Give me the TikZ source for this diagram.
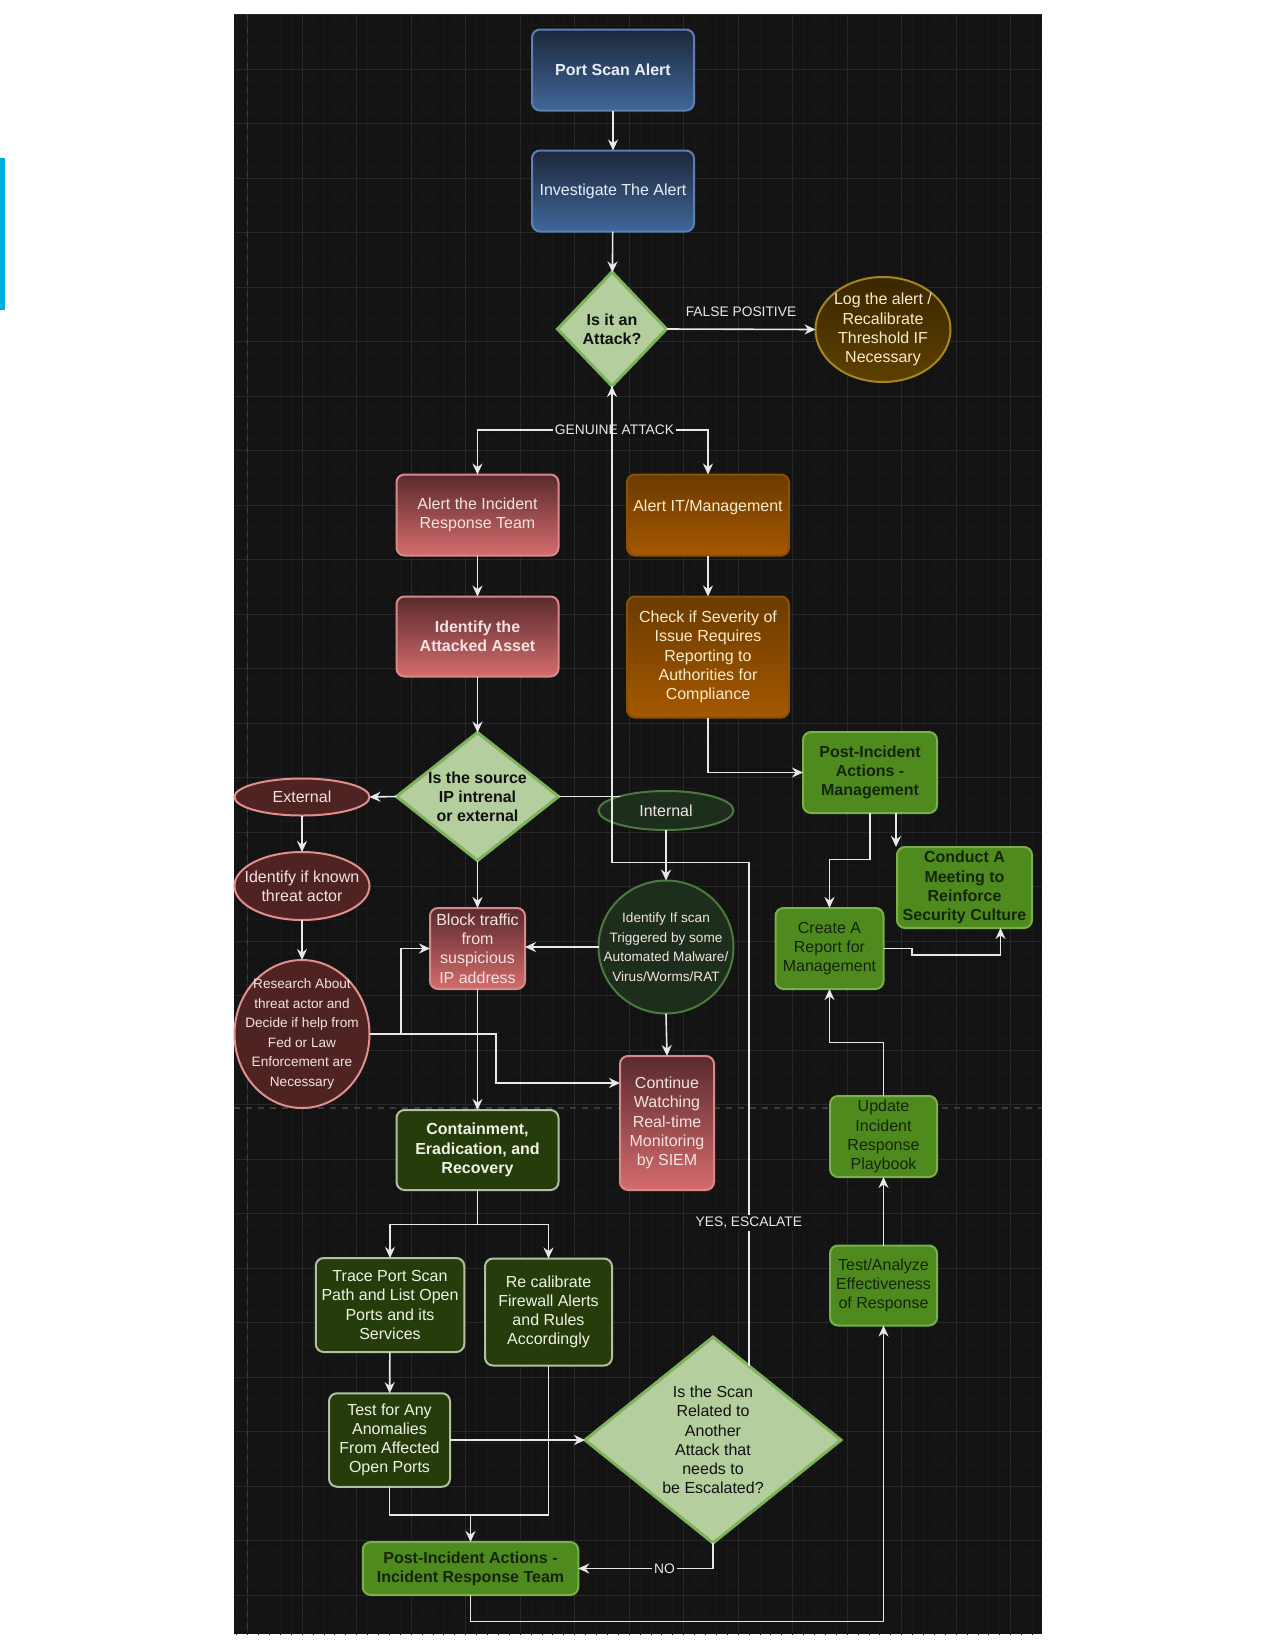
\documentclass[tikz,border=0pt]{standalone}
\usepackage{fontspec}
\setmainfont{Liberation Sans}
\usetikzlibrary{arrows.meta,shapes.geometric,calc}
\definecolor{bgC}{HTML}{131313}
\definecolor{minC}{HTML}{181818}
\definecolor{majC}{HTML}{282828}
\definecolor{pbC}{HTML}{3C3C3C}
\definecolor{lineC}{HTML}{E8E8E8}
\definecolor{blueT}{HTML}{1D283B}
\definecolor{blueB}{HTML}{40679A}
\definecolor{blueD}{HTML}{5E7FB3}
\definecolor{blueTx}{HTML}{E8EEF6}
\definecolor{redT}{HTML}{5A2A2E}
\definecolor{redB}{HTML}{D56C6C}
\definecolor{redD}{HTML}{D88A8A}
\definecolor{redTx}{HTML}{F4E2E2}
\definecolor{orT}{HTML}{6A3B00}
\definecolor{orB}{HTML}{A65800}
\definecolor{orD}{HTML}{8A5200}
\definecolor{orTx}{HTML}{FBEBCB}
\definecolor{logT}{HTML}{3A2700}
\definecolor{logB}{HTML}{5E4000}
\definecolor{logD}{HTML}{A8861E}
\definecolor{diaF}{HTML}{B4CE9E}
\definecolor{diaB}{HTML}{7DB35C}
\definecolor{diaTx}{HTML}{111111}
\definecolor{ellR}{HTML}{502323}
\definecolor{ellRD}{HTML}{E28E8E}
\definecolor{ellG}{HTML}{1D2F1C}
\definecolor{ellGD}{HTML}{4C7A3E}
\definecolor{grF}{HTML}{4E8A1D}
\definecolor{grD}{HTML}{78B146}
\definecolor{grTx}{HTML}{15250A}
\definecolor{dgF}{HTML}{263C0A}
\definecolor{dgD}{HTML}{B3BFA5}
\definecolor{dgTx}{HTML}{F0F2E6}
\definecolor{cyanC}{HTML}{00AEDF}
\tikzset{
  conn/.style={draw=lineC, line width=0.8pt},
  arr/.style={conn, -{Stealth[length=5.5pt,width=5pt,inset=1.8pt]}},
  sz/.style 2 args={minimum width=#1*0.5pt, minimum height=#2*0.5pt},
  nfont/.style={font=\fontsize{8}{9.6}\selectfont},
  bfont/.style={font=\fontsize{8}{9.6}\selectfont\bfseries},
  sfont/.style={font=\fontsize{6.8}{9.8}\selectfont},
  box/.style={rectangle, rounded corners=4pt, line width=1pt, align=center, inner sep=1pt, outer sep=0pt, nfont},
  bluebox/.style={box, draw=blueD, top color=blueT, bottom color=blueB, text=blueTx},
  redbox/.style={box, draw=redD, top color=redT, bottom color=redB, text=redTx},
  orbox/.style={box, draw=orD, top color=orT, bottom color=orB, text=orTx},
  grbox/.style={box, draw=grD, fill=grF, text=grTx},
  dgbox/.style={box, draw=dgD, fill=dgF, text=dgTx},
  dia/.style={diamond, line width=1.5pt, draw=diaB, fill=diaF, outer sep=0pt, inner sep=0pt},
  ell/.style={ellipse, line width=1pt, outer sep=0pt, inner sep=0pt},
  redell/.style={ell, draw=ellRD, fill=ellR},
  grell/.style={ell, draw=ellGD, fill=ellG},
  txt/.style={align=center, inner sep=0pt},
  lbl/.style={fill=bgC, text=lineC, inner sep=1pt, font=\fontsize{6.9}{8}\selectfont},
}
\begin{document}
\begin{tikzpicture}[x=0.5pt,y=-0.5pt]
\useasboundingbox (0,0) rectangle (1275,1650);
\fill[white] (0,0) rectangle (1275,1650);
\fill[cyanC] (0,158) rectangle (5,310);
\fill[bgC] (233.5,14.5) rectangle (1041.5,1634);
\begin{scope}
  \clip (233.5,14.5) rectangle (1041.5,1634);
  \foreach \i in {-2,...,74} \draw[minC, line width=0.3pt] ({247.5+\i*10.9},14.5) -- ++(0,1620);
  \foreach \j in {0,...,149} \draw[minC, line width=0.3pt] (233.5,{14.5+\j*10.9}) -- ++(808,0);
  \foreach \i in {0,...,15} \draw[majC, line width=0.5pt] ({247.5+\i*54.5},14.5) -- ++(0,1620);
  \foreach \j in {0,...,30} \draw[majC, line width=0.5pt] (233.5,{14.5+\j*54.5}) -- ++(808,0);
  \draw[pbC, dashed, line width=0.6pt] (247.5,14.5) -- (247.5,1634);
  \draw[pbC, dashed, line width=0.6pt] (233.5,1108) -- (1041.5,1108);
\end{scope}

% ---- nodes ----
\node[bluebox, bfont, sz={162}{81}] (ps) at (613,70) {Port Scan Alert};
\node[bluebox, sz={162}{81}] (inv) at (613,191) {Investigate The Alert};
\node[dia, sz={109}{114}, label={[txt, bfont, text=diaTx]center:{Is it an\\Attack?}}] (d1) at (612,329) {};
\node[ell, draw=logD, top color=logT, bottom color=logB, sz={135}{105}, label={[txt, nfont, text=orTx]center:{Log the alert /\\Recalibrate\\Threshold IF\\Necessary}}] (log) at (883,329.5) {};

\node[redbox, sz={162}{81}] (air) at (477.5,515) {Alert the Incident\\Response Team};
\node[orbox, sz={162}{81}] (ait) at (708,515) {Alert IT/Management\\\mbox{}};
\node[redbox, bfont, sz={162}{80}] (iaa) at (477.5,636.5) {Identify the\\Attacked Asset};
\node[orbox, sz={162}{121}] (chk) at (708,657) {Check if Severity of\\Issue Requires\\Reporting to\\Authorities for\\Compliance};
\node[dia, sz={162}{128}, label={[txt, bfont, text=diaTx]center:{Is the source\\IP intrenal\\or external}}] (d2) at (477.5,796.5) {};
\node[grbox, bfont, sz={134}{81}] (pim) at (870,772.5) {Post-Incident\\Actions -\\Management};

\node[redell, sz={135}{37}, label={[txt, nfont, text=redTx]center:{External}}] (ext) at (302,797) {};
\node[grell, sz={135}{39}, label={[txt, nfont, text=redTx]center:{Internal}}] (int) at (666,810.5) {};
\node[redell, sz={135}{68}, label={[txt, nfont, text=redTx]center:{Identify if known\\threat actor}}] (ika) at (302,886) {};
\node[redell, sz={135}{148}, label={[txt, sfont, text=redTx]center:{Research About\\threat actor and\\Decide if help from\\Fed or Law\\Enforcement are\\Necessary}}] (res) at (302,1034) {};
\node[redbox, sz={95}{81}] (blk) at (477.5,948.5) {Block traffic\\from\\suspicious\\IP address};
\node[grell, sz={135}{133}, label={[txt, sfont, text=redTx]center:{Identify If scan\\Triggered by some\\Automated Malware/\\Virus/Worms/RAT}}] (isc) at (666,947) {};
\node[redbox, sz={94}{134}] (cw) at (667,1123) {Continue\\Watching\\Real-time\\Monitoring\\by SIEM};

\node[grbox, bfont, sz={135}{81}] (cnd) at (964.5,887.5) {Conduct A\\Meeting to\\Reinforce\\Security Culture};
\node[grbox, sz={108}{81}] (crt) at (829.5,948.5) {Create A\\Report for\\Management};
\node[grbox, sz={107}{81}] (upd) at (883.5,1136.5) {Update\\Incident\\Response\\Playbook};
\node[grbox, sz={107}{80}] (tae) at (883.5,1285.5) {Test/Analyze\\Effectiveness\\of Response};

\node[dgbox, bfont, sz={162}{80}] (cer) at (477.5,1150) {Containment,\\Eradication, and\\Recovery};
\node[dgbox, sz={148.5}{94}] (trc) at (390,1305) {Trace Port Scan\\Path and List Open\\Ports and its\\Services};
\node[dgbox, sz={127}{107}] (rcl) at (548.5,1312) {Re calibrate\\Firewall Alerts\\and Rules\\Accordingly};
\node[dgbox, sz={121}{93.5}] (tst) at (389.5,1440) {Test for Any\\Anomalies\\From Affected\\Open Ports};
\node[dia, sz={256}{206}, label={[txt, nfont, text=diaTx]center:{Is the Scan\\Related to\\Another\\Attack that\\needs to\\be Escalated?}}] (d3) at (713,1440) {};
\node[grbox, bfont, sz={215.5}{53}] (pir) at (470.5,1568.5) {Post-Incident Actions -\\Incident Response Team};

% ---- connectors ----
\draw[arr] (ps) -- (inv);
\draw[arr] (inv) -- (d1);
\draw[arr] (d1.east) -- node[midway, above=5pt, text=lineC, inner sep=1pt, font=\fontsize{6.9}{8}\selectfont]{FALSE POSITIVE} (log.west);
\draw[arr] (d1.south) -- ++(0,44) -| (air.north);
\draw[arr] (d1.south) -- ++(0,44) -| (ait.north);
\node[lbl] (ga) at (614.5,430) {GENUINE ATTACK};
\draw[arr] (air) -- (iaa);
\draw[arr] (ait) -- (chk);
\draw[arr] (iaa) -- (d2);
\draw[arr] (chk.south) |- (pim.west);
\draw[arr] (d2.west) -- (ext.east);
\draw[conn] (d2.east) -- (d2.east -| int.163);
\draw[arr] (ext) -- (ika);
\draw[arr] (ika) -- (res);
\draw[arr] (d2.south) -- (blk.north);
\draw[arr] (int.south) -- (isc.north);
\draw[arr] (isc.west) -- (isc.west -| blk.east);
\draw[arr] (isc.south) -- (cw.north);
\draw[arr] (res.east) -| (401,948.5) -- (blk.west);
\draw[arr] (res.east) -| (496,1083) -- (cw.west |- 0,1083);
\draw[arr] (blk.south) -- (cer.north);
\draw[arr] (cer.south) -- ++(0,34.5) -| (trc.north);
\draw[arr] (cer.south) -- ++(0,34.5) -| (rcl.north);
\draw[arr] (trc) -- (tst);
\draw[arr] (tst.east) -- (d3.west);
\draw[conn] (tst.south) |- (rcl.south |- 0,1515) -- (rcl.south);
\draw[arr] (pir.north |- 0,1515) -- (pir.north);
\draw[arr] (d3.south) |- node[lbl, pos=0.68]{NO} (pir.east);
\draw[arr] (pir.south) -- ++(0,26.5) -| (tae.south);
\draw[arr] (tae) -- (upd);
\draw[arr] (upd.north) -- ++(0,-53.5) -| (crt.south);
\draw[arr] (pim.south) -- ++(0,46.5) -| (crt.north);
\draw[arr] ([xshift=13pt]pim.south) -- ([xshift=13pt]pim.south |- cnd.north);
\draw[arr] (crt.east) -| (912,955) -| ([xshift=18pt]cnd.south);
\draw[arr] ($(d3.north)!0.28!(d3.east)$) |- node[lbl, pos=0.142]{YES, ESCALATE} (d1.south |- 0,862.5) -- (d1.south);
\end{tikzpicture}
\end{document}
